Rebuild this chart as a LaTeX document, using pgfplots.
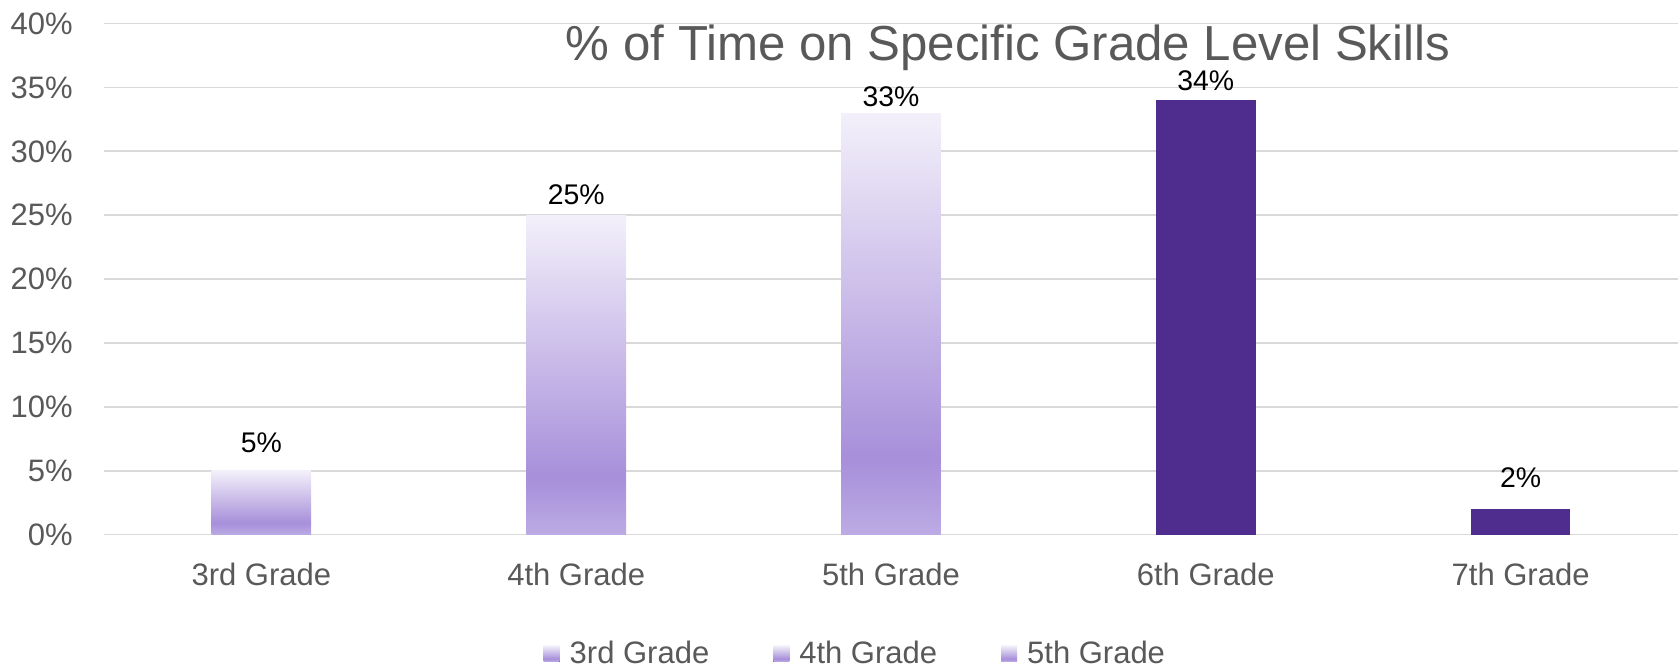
\documentclass[border=0pt]{standalone}
\usepackage{fontspec}
\setmainfont{Liberation Sans}
\usepackage{pgfplots}
\pgfplotsset{compat=1.18}

\definecolor{txtgray}{HTML}{595959}
\definecolor{gridgray}{HTML}{D9D9D9}
\definecolor{darkpurple}{HTML}{4F2D8F}
\definecolor{bartop}{HTML}{F3F0FA}
\definecolor{barmid}{HTML}{A78FDA}
\definecolor{barbot}{HTML}{BCABE4}

% light at the top, strongest colour just above the bottom
\pgfdeclareverticalshading{bargrad}{100bp}{color(0bp)=(barbot); color(25bp)=(barbot); color(34bp)=(barmid); color(75bp)=(bartop); color(100bp)=(bartop)}

\begin{document}
\begin{tikzpicture}
\useasboundingbox (0,0) rectangle (840pt,334pt);
\begin{axis}[
  at={(52pt,66.7pt)}, anchor=south west,
  scale only axis,
  width=787pt, height=255.5pt,
  ybar, bar width=49.8pt, bar shift=0pt,
  xmin=-0.5, xmax=4.5,
  ymin=0, ymax=40,
  xtick={0,1,2,3,4},
  xticklabels={3rd Grade,4th Grade,5th Grade,6th Grade,7th Grade},
  ytick={0,5,10,15,20,25,30,35,40},
  yticklabels={0\%,5\%,10\%,15\%,20\%,25\%,30\%,35\%,40\%},
  major tick length=0pt,
  axis line style={draw=none},
  ymajorgrids,
  major grid style={gridgray, line width=0.9pt},
  x tick label style={anchor=base, yshift=-25.7pt, font=\fontsize{15.5}{18}\selectfont, text=txtgray},
  y tick label style={anchor=east, inner sep=0pt, xshift=-15.5pt, font=\fontsize{15.5}{18}\selectfont, text=txtgray},
  point meta=y,
  nodes near coords={\pgfmathprintnumber[assume math mode=true]{\pgfplotspointmeta}\%},
  every node near coord/.append style={anchor=base, black, font=\fontsize{14.2}{17}\selectfont},
  legend image code/.code={\fill[shading=bargrad] (0pt,-4pt) rectangle (8pt,4pt);},
  legend columns=3,
  legend style={at={(0.478,-0.233)}, anchor=center, draw=none,
    font=\fontsize{15.5}{18}\selectfont, text=txtgray,
    /tikz/every odd column/.append style={column sep=3pt},
    /tikz/every even column/.append style={column sep=30pt}},
]
\addplot[shading=bargrad, draw=none, every node near coord/.append style={yshift=9pt}] coordinates {(0,5)};
\addlegendentry{3rd Grade}
\addplot[shading=bargrad, draw=none, every node near coord/.append style={yshift=5.4pt}] coordinates {(1,25)};
\addlegendentry{4th Grade}
\addplot[shading=bargrad, draw=none, every node near coord/.append style={yshift=3.2pt}] coordinates {(2,33)};
\addlegendentry{5th Grade}
\addplot[forget plot, fill=darkpurple, draw=none, every node near coord/.append style={yshift=5pt}] coordinates {(3,34)};
\addplot[forget plot, fill=darkpurple, draw=none, every node near coord/.append style={yshift=11pt}] coordinates {(4,2)};
\end{axis}
\node[anchor=base, text=txtgray, font=\fontsize{24.6}{29}\selectfont] at (504pt,303.7pt) {\% of Time on Specific Grade Level Skills};
\end{tikzpicture}
\end{document}
